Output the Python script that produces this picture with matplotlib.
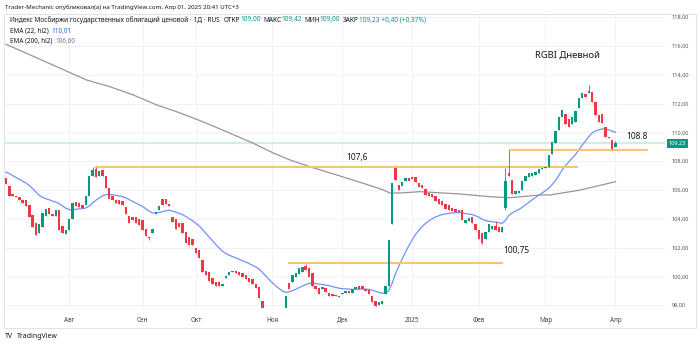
import matplotlib
matplotlib.use("Agg")
import matplotlib.pyplot as plt
import matplotlib.transforms as mtransforms
from matplotlib.patches import Rectangle
import numpy as np

plt.rcParams["font.family"] = ["Noto Sans", "DejaVu Sans"]

# дневные свечи RGBI, бар 0 ~ начало июля 2024, бар 183 = 01.04.2025
opens = [
    106.8, 106.3, 105.7, 105.6, 105.5, 105.3, 105.3, 104.95, 104.25, 103.7,
    103.0, 103.4, 104.2, 104.75, 104.3, 104.2, 104.6, 103.5, 102.95, 103.2,
    104.0, 105.15, 105.1, 104.95, 104.95, 105.6, 107.0, 107.45, 107.0, 107.4,
    107.0, 106.1, 105.6, 105.3, 105.3, 105.2, 104.8, 104.2, 104.1, 104.1,
    104.0, 103.9, 103.3, 102.75, 103.0, 104.35, 104.6, 105.4, 105.35, 105.0,
    104.1, 104.0, 103.7, 103.7, 103.1, 102.7, 102.6, 102.0, 101.8, 101.1,
    100.4, 100.3, 99.9, 99.6, 99.6, 99.3, 99.85, 100.1, 100.4, 100.4,
    100.3, 100.2, 100.1, 99.9, 99.8, 99.5, 99.25, 98.3, 97.5, 97.4,
    97.2, 97.0, 97.3, 97.2, 97.3, 99.55, 99.6, 99.95, 100.15, 100.3,
    100.7, 100.6, 100.2, 99.3, 99.2, 99.1, 99.2, 98.85, 98.8, 98.7,
    98.55, 98.85, 98.85, 98.95, 98.85, 99.1, 99.3, 99.3, 99.1, 99.05,
    98.6, 98.3, 98.0, 98.05, 98.8, 99.3, 103.6, 107.5, 106.35, 106.3,
    106.6, 106.85, 106.9, 106.9, 106.45, 106.35, 106.05, 105.8, 105.75, 105.55,
    105.4, 105.2, 105.0, 104.95, 104.75, 104.7, 104.6, 104.6, 103.72, 103.86,
    104.1, 103.6, 103.2, 103.0, 102.6, 103.1, 103.3, 103.5, 103.4, 103.1,
    104.75, 107.15, 106.7, 105.75, 105.8, 106.0, 106.65, 106.92, 107.0, 107.03,
    107.15, 107.45, 107.5, 107.6, 108.5, 109.25, 110.15, 111.1, 111.3, 110.95,
    110.6, 110.75, 111.7, 112.4, 112.65, 112.75, 112.8, 112.1, 111.2, 111.25,
    110.4, 109.7, 109.45, 109.0,
]
closes = [
    106.4, 105.6, 105.6, 105.5, 105.3, 105.1, 104.9, 104.1, 103.4, 102.9,
    103.6, 104.4, 104.7, 104.3, 104.2, 104.6, 103.2, 103.0, 103.2, 104.0,
    105.1, 104.9, 104.8, 104.75, 105.6, 107.0, 107.4, 106.9, 107.3, 107.0,
    106.1, 105.35, 105.3, 105.1, 105.0, 104.95, 104.3, 103.7, 103.9, 103.7,
    103.55, 103.2, 102.8, 102.65, 103.3, 104.5, 104.9, 104.95, 105.0, 104.9,
    103.8, 103.3, 103.4, 103.0, 102.3, 102.2, 102.2, 101.6, 101.3, 100.3,
    100.1, 99.7, 99.5, 99.3, 99.35, 99.5, 100.0, 100.3, 100.3, 100.25,
    100.1, 99.95, 99.8, 99.6, 99.5, 99.2, 98.5, 97.5, 97.3, 97.1,
    97.0, 97.3, 97.1, 97.0, 98.6, 99.15, 100.1, 100.2, 100.55, 100.65,
    100.45, 99.95, 99.3, 99.1, 98.8, 99.25, 98.9, 98.65, 98.6, 98.6,
    98.65, 98.75, 99.0, 98.85, 99.1, 99.25, 99.15, 99.1, 98.95, 98.75,
    98.25, 97.95, 98.25, 98.3, 99.3, 102.5, 106.45, 106.7, 106.0, 106.55,
    106.8, 106.6, 106.75, 106.55, 106.2, 106.15, 105.65, 105.55, 105.5, 105.2,
    105.0, 104.95, 104.7, 104.6, 104.55, 104.5, 104.45, 103.9, 103.91, 104.03,
    103.7, 103.2, 102.6, 102.3, 103.1, 103.6, 103.5, 103.2, 103.1, 103.4,
    106.6, 106.95, 105.75, 105.95, 105.9, 106.6, 106.95, 107.15, 107.2, 107.27,
    107.43, 107.55, 107.6, 108.43, 109.3, 110.1, 111.1, 111.55, 110.6, 110.4,
    111.1, 111.45, 112.4, 112.7, 112.45, 112.85, 112.1, 111.2, 110.75, 110.65,
    109.7, 109.6, 108.85, 109.23,
]
# длинные тени, которые видны на картинке
wick_high = {26: 107.6, 27: 107.6, 90: 100.85, 117: 107.6, 147: 103.85,
             150: 107.5, 151: 108.8, 175: 113.3, 183: 109.42}
wick_low = {43: 102.55, 143: 102.25, 150: 104.6}

ema200_bar = [0, 19.7, 24.2, 31.2, 38.2, 45.3, 51.3, 58.3, 66.3, 74.3, 80.3, 85.3,
              91.3, 99.3, 107.3, 113.3, 115.3, 119.2, 124.3, 136.3, 145.3, 151.4,
              160.4, 163.4, 172.4, 183]
ema200_val = [116.12, 114.10, 113.64, 113.17, 112.6, 111.9, 111.43, 110.81, 110.04,
              109.24, 108.56, 108.08, 107.61, 107.04, 106.46, 106.0, 105.78, 105.8,
              105.88, 105.72, 105.53, 105.46, 105.65, 105.65, 105.99, 106.57]
ema22_start = 107.24

month_ticks = [19, 41, 57, 80, 101, 122, 142, 162, 183]
month_labels = ["Авг", "Сен", "Окт", "Ноя", "Дек", "2025", "Фев", "Мар", "Апр"]
price_ticks = [98, 100, 102, 104, 106, 108, 110, 112, 114, 116, 118]

# уровни автора: (цена, от бара, до бара)
levels = [(107.6, 26.7, 171.8), (100.9, 84.7, 149.2), (108.8, 151.0, 192.8)]
last_price = 109.23

GREEN = "#089981"
RED = "#f23645"
ORANGE = "#fbc27c"
DARK = "#131722"


def ema(values, start, period):
    alpha = 2.0 / (period + 1)
    out = [start]
    for v in values[1:]:
        out.append(out[-1] + alpha * (v - out[-1]))
    return np.array(out)


def put_segments(fig, x, y, parts, size):
    """Кладёт куски текста подряд, каждый своим цветом."""
    renderer = fig.canvas.get_renderer()
    for text, color, gap in parts:
        t = fig.text(x, y, text, color=color, fontsize=size, va="center", ha="left")
        bb = t.get_window_extent(renderer)
        x += (bb.width + gap) / fig.bbox.width


fig = plt.figure(figsize=(7.0, 3.47), dpi=100)
W, H = 700.0, 347.0
ax = fig.add_axes([5 / W, (H - 308) / H, 660 / W, 294 / H])

o = np.array(opens)
c = np.array(closes)
idx = np.arange(len(o))
hi = np.array([wick_high.get(i, max(o[i], c[i])) for i in idx])
lo = np.array([wick_low.get(i, min(o[i], c[i])) for i in idx])
up = c >= o
colors = np.where(up, GREEN, RED)

# сетка и линия текущей цены
ax.set_axisbelow(True)
ax.grid(True, color="#f0f2f6", lw=0.8)
ax.axhline(last_price, color="#d3eee7", lw=1.6, zorder=1)

# скользящие
ema22 = ema((hi + lo) / 2, ema22_start, 22)
ax.plot(idx, ema22, color="#6f93f7", lw=0.9, zorder=2)
ax.plot(ema200_bar, ema200_val, color="#969696", lw=0.9, zorder=2)

# уровни
for price, x0, x1 in levels:
    ax.plot([x0, x1], [price, price], color=ORANGE, lw=1.5, zorder=2,
            solid_capstyle="butt")

# свечи
ax.vlines(idx, lo, hi, colors=colors, lw=0.6, zorder=3)
body = np.maximum(np.abs(c - o), 0.04)
ax.bar(idx, body, bottom=np.minimum(o, c), width=0.72, color=colors, lw=0, zorder=4)

ax.set_xlim(-0.3, 197.9)
ax.set_ylim(97.8, 118.22)
for s in ax.spines.values():
    s.set_visible(False)

ax.set_xticks(month_ticks)
ax.set_xticklabels(month_labels)
for lab in ax.get_xticklabels():
    if lab.get_text() == "2025":
        lab.set_fontweight("bold")
ax.tick_params(axis="x", length=0, pad=6.5, labelsize=4.6, labelcolor="#444")
ax.yaxis.tick_right()
ax.set_yticks(price_ticks)
ax.set_yticklabels([f"{p:.2f}".replace(".", ",") for p in price_ticks])
ax.tick_params(axis="y", length=0, pad=4.5, labelsize=4.0, labelcolor="#555")

# метка последней цены на шкале
trans = mtransforms.blended_transform_factory(ax.transAxes, ax.transData)
ax.text(1.006, last_price, "109,23", transform=trans, ha="left", va="center",
        fontsize=4.0, color="white", clip_on=False, zorder=6,
        bbox=dict(boxstyle="square,pad=0.35", fc=GREEN, ec="none"))

# подписи автора
ax.text(168.5, 115.37, "RGBI Дневной", fontsize=6.8, color=DARK, ha="center", va="center")
ax.text(105.4, 108.22, "107,6", fontsize=6, color=DARK, ha="center", va="center")
ax.text(149.2, 101.82, "100,75", fontsize=6, color=DARK, ha="left", va="center")
ax.text(186.2, 109.68, "108.8", fontsize=6, color=DARK, ha="left", va="center")

# рамка графика
fig.add_artist(Rectangle((4 / W, (H - 328) / H), 692 / W, 314.5 / H,
                         transform=fig.transFigure, fill=False, ec="#e0e3eb", lw=0.7))

# шапка и легенда
fig.text(5 / W, 1 - 7 / H,
         "Trader-Mechanic опубликовал(а) на TradingView.com, Апр 01, 2025 20:41 UTC+3",
         fontsize=4.4, color=DARK, va="center")
put_segments(fig, 10 / W, 1 - 20 / H, [
    ("Индекс Мосбиржи государственных облигаций ценовой · 1Д · RUS", DARK, 4),
    ("ОТКР", DARK, 0), ("109,00", GREEN, 2.5),
    ("МАКС", DARK, 0), ("109,42", GREEN, 2.5),
    ("МИН", DARK, 0), ("109,00", GREEN, 2.5),
    ("ЗАКР", DARK, 0), ("109,23 +0,40 (+0,37%)", GREEN, 0),
], 4.7)
put_segments(fig, 10 / W, 1 - 31 / H, [("EMA (22, hl2)", DARK, 3), ("110,01", "#2962ff", 0)], 4.6)
put_segments(fig, 10 / W, 1 - 41 / H, [("EMA (200, hl2)", DARK, 3), ("106,60", "#787b86", 0)], 4.6)

fig.text(5 / W, 1 - 337 / H, "TV", fontsize=5, fontweight="bold", color=DARK, va="center")
fig.text(17 / W, 1 - 337 / H, "TradingView", fontsize=5, color=DARK, va="center")

fig.savefig("out.png", dpi=100, facecolor="white")
